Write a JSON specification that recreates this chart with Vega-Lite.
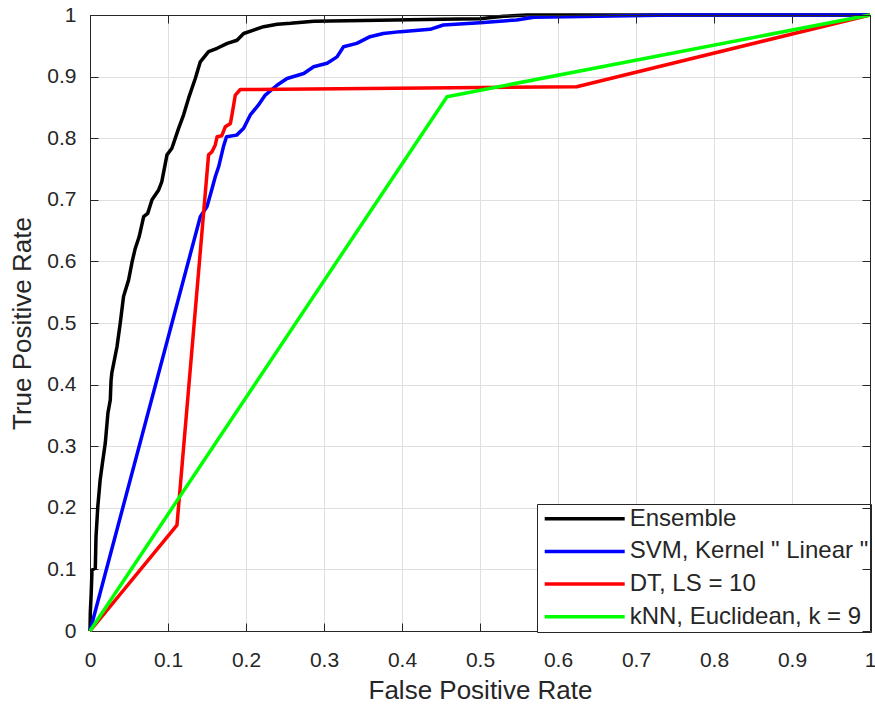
{
  "$schema": "https://vega.github.io/schema/vega-lite/v6.json",
  "width": 780,
  "height": 616,
  "autosize": "none",
  "padding": {"left": 90, "top": 15, "right": 5, "bottom": 74},
  "background": "white",
  "config": {
    "font": "Liberation Sans",
    "view": {"stroke": null},
    "axis": {
      "domainColor": "#262626",
      "domainWidth": 1,
      "tickColor": "#262626",
      "tickWidth": 1,
      "tickSize": -8,
      "labelColor": "#262626",
      "labelFont": "Liberation Sans",
      "labelFontSize": 21,
      "titleColor": "#262626",
      "titleFont": "Liberation Sans",
      "titleFontSize": 26,
      "titleFontWeight": "normal",
      "gridColor": "#dfdfdf",
      "gridWidth": 1
    }
  },
  "datasets": {
    "roc": [
      {"model": "Ensemble", "fpr": 0, "tpr": 0},
      {"model": "Ensemble", "fpr": 0.0004, "tpr": 0.03},
      {"model": "Ensemble", "fpr": 0.0015, "tpr": 0.06},
      {"model": "Ensemble", "fpr": 0.0026, "tpr": 0.099},
      {"model": "Ensemble", "fpr": 0.0068, "tpr": 0.102},
      {"model": "Ensemble", "fpr": 0.0077, "tpr": 0.153},
      {"model": "Ensemble", "fpr": 0.010, "tpr": 0.202},
      {"model": "Ensemble", "fpr": 0.013, "tpr": 0.245},
      {"model": "Ensemble", "fpr": 0.016, "tpr": 0.273},
      {"model": "Ensemble", "fpr": 0.0196, "tpr": 0.305},
      {"model": "Ensemble", "fpr": 0.023, "tpr": 0.354},
      {"model": "Ensemble", "fpr": 0.026, "tpr": 0.375},
      {"model": "Ensemble", "fpr": 0.027, "tpr": 0.407},
      {"model": "Ensemble", "fpr": 0.028, "tpr": 0.419},
      {"model": "Ensemble", "fpr": 0.0346, "tpr": 0.4615},
      {"model": "Ensemble", "fpr": 0.0388, "tpr": 0.5},
      {"model": "Ensemble", "fpr": 0.043, "tpr": 0.543},
      {"model": "Ensemble", "fpr": 0.0495, "tpr": 0.57},
      {"model": "Ensemble", "fpr": 0.054, "tpr": 0.5995},
      {"model": "Ensemble", "fpr": 0.058, "tpr": 0.621},
      {"model": "Ensemble", "fpr": 0.063, "tpr": 0.64},
      {"model": "Ensemble", "fpr": 0.0688, "tpr": 0.6726},
      {"model": "Ensemble", "fpr": 0.074, "tpr": 0.678},
      {"model": "Ensemble", "fpr": 0.0795, "tpr": 0.7},
      {"model": "Ensemble", "fpr": 0.088, "tpr": 0.716},
      {"model": "Ensemble", "fpr": 0.092, "tpr": 0.729},
      {"model": "Ensemble", "fpr": 0.0987, "tpr": 0.773},
      {"model": "Ensemble", "fpr": 0.105, "tpr": 0.7836},
      {"model": "Ensemble", "fpr": 0.1136, "tpr": 0.816},
      {"model": "Ensemble", "fpr": 0.12, "tpr": 0.838},
      {"model": "Ensemble", "fpr": 0.1264, "tpr": 0.865},
      {"model": "Ensemble", "fpr": 0.135, "tpr": 0.897},
      {"model": "Ensemble", "fpr": 0.1414, "tpr": 0.924},
      {"model": "Ensemble", "fpr": 0.152, "tpr": 0.9404},
      {"model": "Ensemble", "fpr": 0.163, "tpr": 0.946},
      {"model": "Ensemble", "fpr": 0.176, "tpr": 0.954},
      {"model": "Ensemble", "fpr": 0.1885, "tpr": 0.959},
      {"model": "Ensemble", "fpr": 0.197, "tpr": 0.97},
      {"model": "Ensemble", "fpr": 0.2097, "tpr": 0.9756},
      {"model": "Ensemble", "fpr": 0.2226, "tpr": 0.981},
      {"model": "Ensemble", "fpr": 0.24, "tpr": 0.985},
      {"model": "Ensemble", "fpr": 0.257, "tpr": 0.9865},
      {"model": "Ensemble", "fpr": 0.287, "tpr": 0.99},
      {"model": "Ensemble", "fpr": 0.35, "tpr": 0.991},
      {"model": "Ensemble", "fpr": 0.45, "tpr": 0.993},
      {"model": "Ensemble", "fpr": 0.5, "tpr": 0.994},
      {"model": "Ensemble", "fpr": 0.53, "tpr": 0.998},
      {"model": "Ensemble", "fpr": 0.56, "tpr": 1},
      {"model": "Ensemble", "fpr": 1, "tpr": 1},

      {"model": "SVM, Kernel \" Linear \"", "fpr": 0, "tpr": 0},
      {"model": "SVM, Kernel \" Linear \"", "fpr": 0.1414, "tpr": 0.6726},
      {"model": "SVM, Kernel \" Linear \"", "fpr": 0.15, "tpr": 0.689},
      {"model": "SVM, Kernel \" Linear \"", "fpr": 0.156, "tpr": 0.716},
      {"model": "SVM, Kernel \" Linear \"", "fpr": 0.1606, "tpr": 0.7375},
      {"model": "SVM, Kernel \" Linear \"", "fpr": 0.165, "tpr": 0.754},
      {"model": "SVM, Kernel \" Linear \"", "fpr": 0.171, "tpr": 0.786},
      {"model": "SVM, Kernel \" Linear \"", "fpr": 0.175, "tpr": 0.8024},
      {"model": "SVM, Kernel \" Linear \"", "fpr": 0.188, "tpr": 0.805},
      {"model": "SVM, Kernel \" Linear \"", "fpr": 0.197, "tpr": 0.816},
      {"model": "SVM, Kernel \" Linear \"", "fpr": 0.2055, "tpr": 0.8377},
      {"model": "SVM, Kernel \" Linear \"", "fpr": 0.216, "tpr": 0.854},
      {"model": "SVM, Kernel \" Linear \"", "fpr": 0.2247, "tpr": 0.87},
      {"model": "SVM, Kernel \" Linear \"", "fpr": 0.2397, "tpr": 0.886},
      {"model": "SVM, Kernel \" Linear \"", "fpr": 0.2526, "tpr": 0.897},
      {"model": "SVM, Kernel \" Linear \"", "fpr": 0.274, "tpr": 0.905},
      {"model": "SVM, Kernel \" Linear \"", "fpr": 0.2867, "tpr": 0.916},
      {"model": "SVM, Kernel \" Linear \"", "fpr": 0.304, "tpr": 0.9216},
      {"model": "SVM, Kernel \" Linear \"", "fpr": 0.3167, "tpr": 0.932},
      {"model": "SVM, Kernel \" Linear \"", "fpr": 0.325, "tpr": 0.9485},
      {"model": "SVM, Kernel \" Linear \"", "fpr": 0.342, "tpr": 0.954},
      {"model": "SVM, Kernel \" Linear \"", "fpr": 0.359, "tpr": 0.9648},
      {"model": "SVM, Kernel \" Linear \"", "fpr": 0.376, "tpr": 0.97},
      {"model": "SVM, Kernel \" Linear \"", "fpr": 0.398, "tpr": 0.973},
      {"model": "SVM, Kernel \" Linear \"", "fpr": 0.436, "tpr": 0.9768},
      {"model": "SVM, Kernel \" Linear \"", "fpr": 0.453, "tpr": 0.9838},
      {"model": "SVM, Kernel \" Linear \"", "fpr": 0.5, "tpr": 0.9875},
      {"model": "SVM, Kernel \" Linear \"", "fpr": 0.547, "tpr": 0.992},
      {"model": "SVM, Kernel \" Linear \"", "fpr": 0.569, "tpr": 0.9962},
      {"model": "SVM, Kernel \" Linear \"", "fpr": 0.65, "tpr": 0.998},
      {"model": "SVM, Kernel \" Linear \"", "fpr": 0.75, "tpr": 1},
      {"model": "SVM, Kernel \" Linear \"", "fpr": 1, "tpr": 1},

      {"model": "DT, LS = 10", "fpr": 0, "tpr": 0},
      {"model": "DT, LS = 10", "fpr": 0.1115, "tpr": 0.172},
      {"model": "DT, LS = 10", "fpr": 0.152, "tpr": 0.773},
      {"model": "DT, LS = 10", "fpr": 0.1564, "tpr": 0.778},
      {"model": "DT, LS = 10", "fpr": 0.1606, "tpr": 0.789},
      {"model": "DT, LS = 10", "fpr": 0.163, "tpr": 0.8024},
      {"model": "DT, LS = 10", "fpr": 0.169, "tpr": 0.804},
      {"model": "DT, LS = 10", "fpr": 0.1735, "tpr": 0.8187},
      {"model": "DT, LS = 10", "fpr": 0.18, "tpr": 0.824},
      {"model": "DT, LS = 10", "fpr": 0.182, "tpr": 0.8377},
      {"model": "DT, LS = 10", "fpr": 0.1863, "tpr": 0.87},
      {"model": "DT, LS = 10", "fpr": 0.1927, "tpr": 0.879},
      {"model": "DT, LS = 10", "fpr": 0.624, "tpr": 0.8836},
      {"model": "DT, LS = 10", "fpr": 1, "tpr": 1},

      {"model": "kNN, Euclidean, k = 9", "fpr": 0, "tpr": 0},
      {"model": "kNN, Euclidean, k = 9", "fpr": 0.4577, "tpr": 0.8674},
      {"model": "kNN, Euclidean, k = 9", "fpr": 1, "tpr": 1}
    ]
  },
  "data": {"name": "roc"},
  "layer": [
    {
      "transform": [{"filter": "datum.model === 'Ensemble'"}],
      "mark": {"type": "line", "strokeWidth": 3.5, "strokeJoin": "round"},
      "encoding": {
        "x": {
          "field": "fpr", "type": "quantitative",
          "scale": {"domain": [0, 1], "nice": false, "zero": false},
          "axis": {
            "orient": "bottom", "title": "False Positive Rate",
            "values": [0, 0.1, 0.2, 0.3, 0.4, 0.5, 0.6, 0.7, 0.8, 0.9, 1],
            "format": "~g", "labelPadding": 26, "labelFlush": false,
            "titlePadding": 7.5, "grid": true, "zindex": 0
          }
        },
        "y": {
          "field": "tpr", "type": "quantitative",
          "scale": {"domain": [0, 1], "nice": false, "zero": false},
          "axis": {
            "orient": "left", "title": "True Positive Rate",
            "values": [0, 0.1, 0.2, 0.3, 0.4, 0.5, 0.6, 0.7, 0.8, 0.9, 1],
            "format": "~g", "labelPadding": 22, "labelFlush": false,
            "titlePadding": 11, "grid": true, "zindex": 0
          }
        },
        "order": [{"field": "fpr"}, {"field": "tpr"}],
        "color": {
          "field": "model", "type": "nominal",
          "scale": {
            "domain": ["Ensemble", "SVM, Kernel \" Linear \"", "DT, LS = 10", "kNN, Euclidean, k = 9"],
            "range": ["#000000", "#0000ff", "#ff0000", "#00ff00"]
          },
          "legend": {
            "title": null,
            "orient": "bottom-right",
            "offset": -1,
            "fillColor": "white",
            "strokeColor": "#262626",
            "padding": 2.7,
            "cornerRadius": 0,
            "symbolType": "M-8,0H8",
            "symbolSize": 100,
            "symbolStrokeWidth": 3.5,
            "symbolOffset": 33,
            "labelOffset": 33,
            "labelFont": "Liberation Sans",
            "labelFontSize": 24,
            "labelColor": "#262626",
            "labelLimit": 400,
            "rowPadding": 8.7
          }
        }
      }
    },
    {
      "transform": [{"filter": "datum.model !== 'Ensemble'"}],
      "mark": {"type": "line", "strokeWidth": 3.5, "strokeJoin": "round"},
      "encoding": {
        "x": {
          "field": "fpr", "type": "quantitative",
          "axis": {
            "orient": "top", "title": null, "labels": false, "grid": false,
            "values": [0, 0.1, 0.2, 0.3, 0.4, 0.5, 0.6, 0.7, 0.8, 0.9, 1],
            "zindex": 1
          }
        },
        "y": {
          "field": "tpr", "type": "quantitative",
          "axis": {
            "orient": "right", "title": null, "labels": false, "grid": false,
            "values": [0, 0.1, 0.2, 0.3, 0.4, 0.5, 0.6, 0.7, 0.8, 0.9, 1],
            "zindex": 1
          }
        },
        "order": [{"field": "fpr"}, {"field": "tpr"}],
        "color": {"field": "model", "type": "nominal"}
      }
    }
  ],
  "resolve": {"axis": {"x": "independent", "y": "independent"}}
}
